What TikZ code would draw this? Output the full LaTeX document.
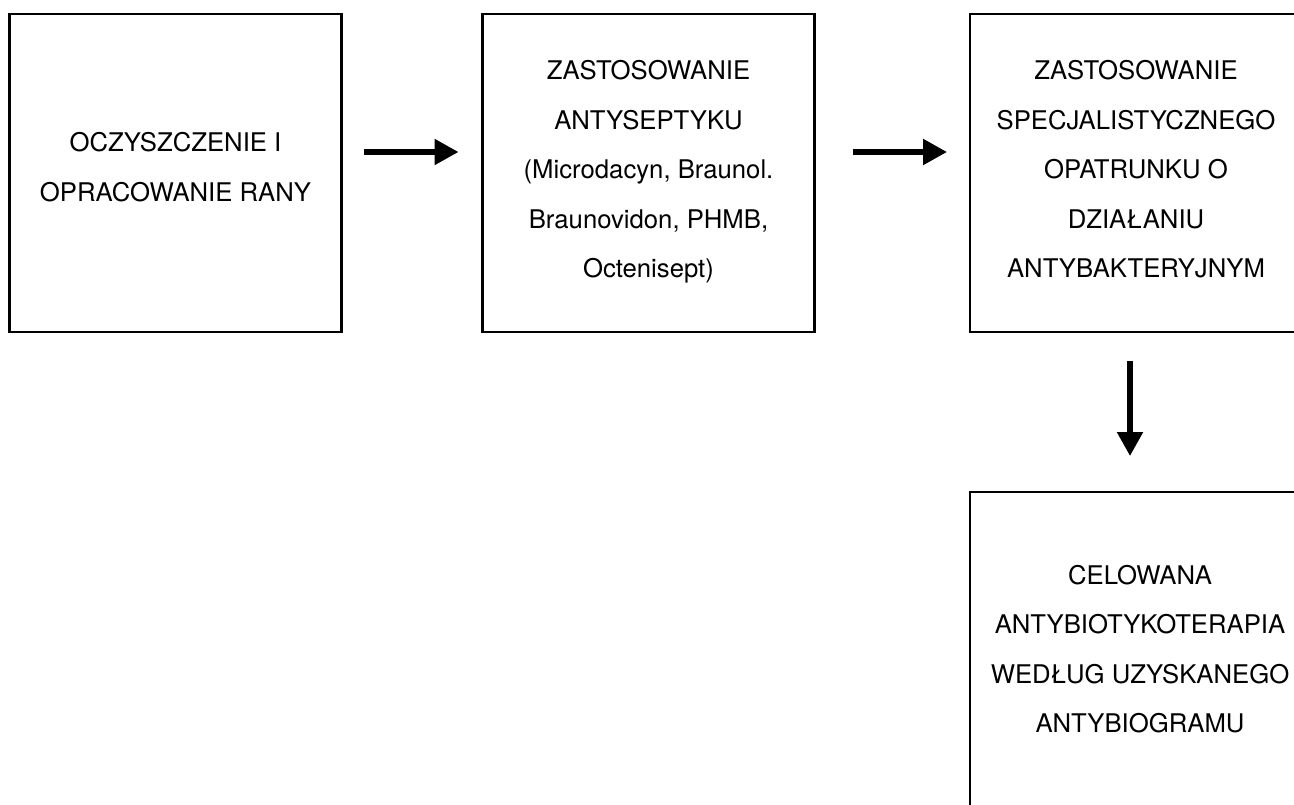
\documentclass[tikz,border=0pt]{standalone}
\usepackage{fontspec}
\setmainfont{TeX Gyre Heros}
\usetikzlibrary{arrows.meta}
\begin{document}
\begin{tikzpicture}[x=1pt,y=-1pt,
  box/.style={draw, line width=2.7pt, inner sep=0pt, outer sep=0pt, minimum width=332pt, minimum height=318pt},
  txt/.style={align=center, inner sep=0pt, outer sep=0pt, anchor=north, font=\fontsize{25.7}{49.5}\selectfont},
  arr/.style={line width=5.3pt, -{Triangle[length=24pt,width=25pt]}}]
\useasboundingbox (0,0) rectangle (1294,805);
\clip (0,0) rectangle (1294,805);
\node[box] (b1) at (175.75,173) {};
\node[box] (b2) at (648.5,173) {};
\node[box] (b3) at (1136,173) {};
\node[box] (b4) at (1136,651) {};
\node[txt] (t1) at (175.5,132.7) {OCZYSZCZENIE I\\OPRACOWANIE RANY};
\node[txt] (t2) at (648.5,60.7) {ZASTOSOWANIE\\ANTYSEPTYKU\\(Microdacyn, Braunol.\\Braunovidon, PHMB,\\Octenisept)};
\node[txt] (t3) at (1136,60.7) {ZASTOSOWANIE\\SPECJALISTYCZNEGO\\OPATRUNKU O\\DZIAŁANIU\\ANTYBAKTERYJNYM};
\node[txt] (t4) at (1140,565) {CELOWANA\\ANTYBIOTYKOTERAPIA\\WEDŁUG UZYSKANEGO\\ANTYBIOGRAMU};
\draw[arr, shorten <=22pt, shorten >=24pt] ([yshift=21pt]b1.east) -- ([yshift=21pt]b2.west);
\draw[arr, shorten <=38pt, shorten >=23pt] ([yshift=21pt]b2.east) -- ([yshift=21pt]b3.west);
\draw[arr, shorten <=29pt, shorten >=36pt] ([xshift=-6pt]b3.south) -- ([xshift=-6pt]b4.north);
\end{tikzpicture}
\end{document}
